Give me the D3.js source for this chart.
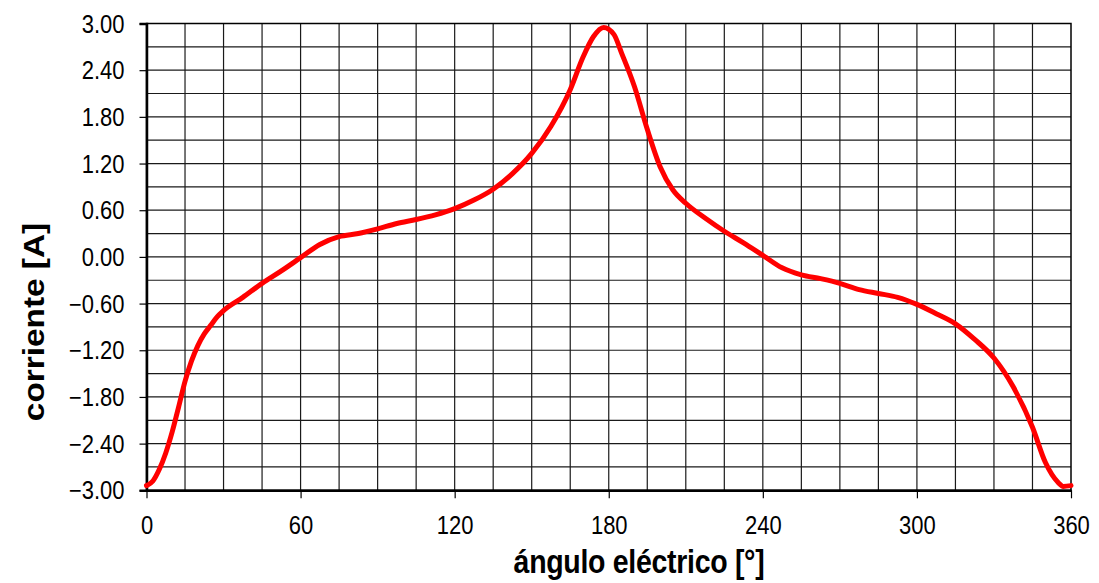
<!DOCTYPE html>
<html>
<head>
<meta charset="utf-8">
<script src="https://cdn.jsdelivr.net/npm/d3@7"></script>
<style>
    html, body { margin: 0; padding: 0; background: #fff; }
    svg { display: block; }
    text { font-family: "Liberation Sans", Arial, sans-serif; fill: #000; }
</style>
</head>
<body>
<div id="chart"></div>
<script>
// Electrical angle [deg]
const angles = [0, 2.5, 5, 7.5, 10, 12.5, 15, 17.5, 20, 22.5, 25, 27.5, 30, 37.5, 45, 52.5, 60, 67.5,
    75, 82.5, 90, 97.5, 105, 112.5, 120, 127.5, 135, 142.5, 150, 157.5, 165, 170, 174, 178, 182,
    185, 190, 195, 200, 205, 210, 217.5, 225, 232.5, 240, 247.5, 255, 262.5, 270, 277.5, 285,
    292.5, 300, 307.5, 315, 322.5, 330, 337.5, 345, 350, 355, 357, 360];

// Current [A]
const current = [-2.94, -2.88, -2.73, -2.52, -2.25, -1.93, -1.60, -1.34, -1.14, -0.99, -0.88, -0.77,
    -0.69, -0.52, -0.34, -0.18, -0.01, 0.16, 0.26, 0.30, 0.36, 0.43, 0.48, 0.54, 0.62, 0.73, 0.87,
    1.07, 1.33, 1.68, 2.15, 2.57, 2.83, 2.95, 2.86, 2.62, 2.19, 1.64, 1.16, 0.86, 0.69, 0.50, 0.33,
    0.18, 0.02, -0.14, -0.23, -0.28, -0.34, -0.42, -0.47, -0.52, -0.61, -0.73, -0.86, -1.06, -1.30,
    -1.67, -2.19, -2.64, -2.90, -2.95, -2.94];

const xTicks = [0, 60, 120, 180, 240, 300, 360];
const yTicks = [-3, -2.4, -1.8, -1.2, -0.6, 0, 0.6, 1.2, 1.8, 2.4, 3];
const xTitle = 'ángulo eléctrico [°]';
const yTitle = 'corriente [A]';

const W = 1099, H = 583;
const margin = { top: 23.5, right: 28, bottom: 92.7, left: 146.5 };
const innerW = W - margin.left - margin.right;
const innerH = H - margin.top - margin.bottom;
const stretch = 1.15; // text in the original is a little taller than wide

const svg = d3.select('#chart')
    .append('svg')
    .attr('width', W)
    .attr('height', H);

const g = svg.append('g')
    .attr('transform', `translate(${margin.left},${margin.top})`);

const x = d3.scaleLinear().domain([0, 360]).range([0, innerW]);
const y = d3.scaleLinear().domain([-3, 3]).range([innerH, 0]);

// Grid: every 15 deg and every 0.3 A
const gridX = d3.range(15, 360, 15);
const gridY = d3.range(-2.7, 3, 0.3);

g.selectAll('.grid-v')
    .data(gridX)
    .enter()
    .append('line')
    .attr('x1', d => x(d))
    .attr('x2', d => x(d))
    .attr('y1', 0)
    .attr('y2', innerH)
    .attr('stroke', '#1a1a1a')
    .attr('stroke-width', 1.2);

g.selectAll('.grid-h')
    .data(gridY)
    .enter()
    .append('line')
    .attr('x1', 0)
    .attr('x2', innerW)
    .attr('y1', d => y(d))
    .attr('y2', d => y(d))
    .attr('stroke', '#1a1a1a')
    .attr('stroke-width', 1.2);

// Frame top / right
g.append('rect')
    .attr('width', innerW)
    .attr('height', innerH)
    .attr('fill', 'none')
    .attr('stroke', '#000')
    .attr('stroke-width', 1.5);

// Axes
const fs = 22;

const yAxis = g.append('g').call(d3.axisLeft(y).tickValues(yTicks).tickSize(7).tickFormat(d3.format('.2f')));
yAxis.select('.domain').attr('stroke-width', 2.5);
yAxis.selectAll('.tick line').attr('stroke-width', 1.2);
yAxis.selectAll('.tick text')
    .attr('font-size', fs)
    .attr('x', -22)
    .attr('dy', null)
    .attr('y', 0)
    .attr('dominant-baseline', 'central')
    .attr('transform', `scale(1,${stretch})`);

const xAxis = g.append('g')
    .attr('transform', `translate(0,${innerH})`)
    .call(d3.axisBottom(x).tickValues(xTicks).tickSize(8).tickSizeOuter(0).tickFormat(d3.format('d')));
xAxis.select('.domain').attr('stroke-width', 2.5);
xAxis.selectAll('.tick line').attr('stroke-width', 1.2);
xAxis.selectAll('.tick text')
    .attr('font-size', fs)
    .attr('y', 0)
    .attr('dy', null)
    .attr('transform', `translate(0,44) scale(1,${stretch})`);

// Curve
const points = angles.map((a, i) => [a, current[i]]);
const line = d3.line()
    .x(d => x(d[0]))
    .y(d => y(d[1]))
    .curve(d3.curveMonotoneX);

g.append('path')
    .datum(points)
    .attr('d', line)
    .attr('fill', 'none')
    .attr('stroke', '#ff0000')
    .attr('stroke-width', 5)
    .attr('stroke-linejoin', 'round')
    .attr('stroke-linecap', 'round');

// Axis titles
svg.append('text')
    .attr('transform', `translate(639,573) scale(1,${stretch})`)
    .attr('text-anchor', 'middle')
    .attr('font-size', 28.5)
    .attr('font-weight', 'bold')
    .attr('letter-spacing', -0.3)
    .text(xTitle);

svg.append('text')
    .attr('transform', `translate(44,322) rotate(-90) scale(${stretch},1)`)
    .attr('text-anchor', 'middle')
    .attr('font-size', 29)
    .attr('font-weight', 'bold')
    .text(yTitle);
</script>
</body>
</html>
